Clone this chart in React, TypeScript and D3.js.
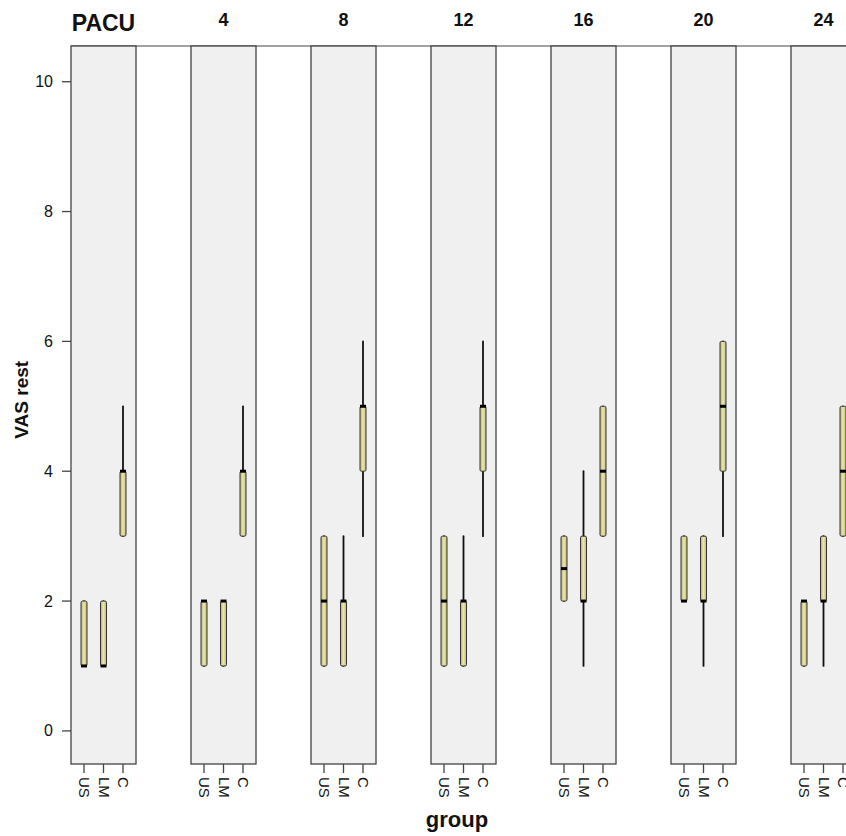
import React from "react";
import * as d3 from "d3";

const timePoints = ["PACU", "4", "8", "12", "16", "20", "24"];
const groups = ["US", "LM", "C"];
const yTicks = [0, 2, 4, 6, 8, 10];

// per group, per time point
const usMin = [1, 1, 1, 1, 2, 2, 1];
const usQ1 = [1, 1, 1, 1, 2, 2, 1];
const usMed = [1, 2, 2, 2, 2.5, 2, 2];
const usQ3 = [2, 2, 3, 3, 3, 3, 2];
const usMax = [2, 2, 3, 3, 3, 3, 2];

const lmMin = [1, 1, 1, 1, 1, 1, 1];
const lmQ1 = [1, 1, 1, 1, 2, 2, 2];
const lmMed = [1, 2, 2, 2, 2, 2, 2];
const lmQ3 = [2, 2, 2, 2, 3, 3, 3];
const lmMax = [2, 2, 3, 3, 4, 3, 3];

const cMin = [3, 3, 3, 3, 3, 3, 3];
const cQ1 = [3, 3, 4, 4, 3, 4, 3];
const cMed = [4, 4, 5, 5, 4, 5, 4];
const cQ3 = [4, 4, 5, 5, 5, 6, 5];
const cMax = [5, 5, 6, 6, 5, 6, 5];

const stats: Record<string, number[][]> = {
  US: [usMin, usQ1, usMed, usQ3, usMax],
  LM: [lmMin, lmQ1, lmMed, lmQ3, lmMax],
  C: [cMin, cQ1, cMed, cQ3, cMax],
};

const W = 846;
const H = 836;
const FONT = "'Liberation Sans', Arial, sans-serif";

export default function App() {
  const panelLeft = 71;
  const step = 120;
  const bw = 65;
  const x = d3
    .scaleBand<string>()
    .domain(timePoints)
    .range([panelLeft, panelLeft + (timePoints.length - 1) * step + bw])
    .paddingInner((step - bw) / step)
    .paddingOuter(0);
  const g = d3
    .scalePoint<string>()
    .domain(groups)
    .range([0, x.bandwidth()])
    .padding(2 / 3);
  const y = d3.scaleLinear().domain([-0.51, 10.55]).range([764, 46]);
  const top = y(10.55);
  const bottom = y(-0.51);
  const boxW = 6;
  const stroke = "#444";

  return (
    <div style={{ position: "absolute", left: 0, top: 0 }}>
      <svg width={W} height={H} style={{ display: "block", background: "#fff" }}>
        <defs>
          <linearGradient id="boxg" x1="0" x2="1" y1="0" y2="0">
            <stop offset="0" stopColor="#bdb775" />
            <stop offset="0.5" stopColor="#e9e5ad" />
            <stop offset="1" stopColor="#bdb775" />
          </linearGradient>
        </defs>
        <line x1={panelLeft} x2={W} y1={top} y2={top} stroke={stroke} strokeWidth={1.2} />
        {timePoints.map((t, ti) => {
          const px = x(t)!;
          return (
            <g key={t}>
              <rect
                x={px}
                y={top}
                width={x.bandwidth()}
                height={bottom - top}
                fill="#f0f0f0"
                stroke={stroke}
                strokeWidth={1.3}
              />
              <text
                x={px + x.bandwidth() / 2}
                y={t === "PACU" ? 31 : 26}
                textAnchor="middle"
                fontFamily={FONT}
                fontWeight="bold"
                fontSize={t === "PACU" ? 23 : 18}
                fill="#111"
              >
                {t}
              </text>
              {groups.map((gr) => {
                const cx = px + g(gr)!;
                const [mn, q1, md, q3, mx] = stats[gr].map((a) => a[ti]);
                return (
                  <g key={gr}>
                    <line x1={cx} x2={cx} y1={y(mx)} y2={y(q3)} stroke="#111" strokeWidth={1.8} strokeLinecap="round" />
                    <line x1={cx} x2={cx} y1={y(q1)} y2={y(mn)} stroke="#111" strokeWidth={1.8} strokeLinecap="round" />
                    <rect
                      x={cx - boxW / 2}
                      y={y(q3)}
                      width={boxW}
                      height={y(q1) - y(q3)}
                      rx={1.5}
                      fill="url(#boxg)"
                      stroke="#333"
                      strokeWidth={1}
                    />
                    <line
                      x1={cx - boxW / 2}
                      x2={cx + boxW / 2}
                      y1={y(md)}
                      y2={y(md)}
                      stroke="#000"
                      strokeWidth={3}
                    />
                    <line x1={cx} x2={cx} y1={bottom} y2={bottom + 9} stroke={stroke} strokeWidth={1.3} />
                    <text
                      transform={`translate(${cx - 1},${bottom + 13}) rotate(90)`}
                      dominantBaseline="middle"
                      textAnchor="start"
                      fontFamily={FONT}
                      fontSize={15}
                      fill="#111"
                    >
                      {gr}
                    </text>
                  </g>
                );
              })}
            </g>
          );
        })}
        {yTicks.map((v) => (
          <g key={v}>
            <line x1={panelLeft - 9} x2={panelLeft} y1={y(v)} y2={y(v)} stroke={stroke} strokeWidth={1.3} />
            <text
              x={panelLeft - 18}
              y={y(v)}
              dominantBaseline="central"
              textAnchor="end"
              fontFamily={FONT}
              fontSize={16}
              fill="#111"
            >
              {v}
            </text>
          </g>
        ))}
        <text
          transform={`translate(28,${y(5.1)}) rotate(-90)`}
          textAnchor="middle"
          fontFamily={FONT}
          fontWeight="bold"
          fontSize={19}
          fill="#111"
        >
          VAS rest
        </text>
        <text
          x={457}
          y={827}
          textAnchor="middle"
          fontFamily={FONT}
          fontWeight="bold"
          fontSize={22}
          fill="#111"
        >
          group
        </text>
      </svg>
    </div>
  );
}
